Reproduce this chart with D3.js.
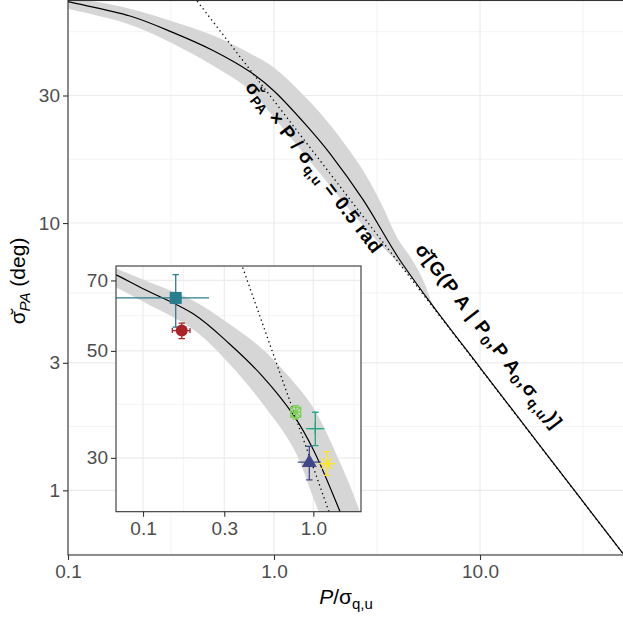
<!DOCTYPE html>
<html><head><meta charset="utf-8">
<script src="https://cdn.jsdelivr.net/npm/d3@7"></script>
<style>
body{margin:0;background:#fff;}
svg{display:block;font-family:"Liberation Sans",Arial,sans-serif;}
</style></head><body>
<svg id="chart" width="623" height="617"></svg>
<script>
// ---------------- data ----------------
const curveX = [0.065, 0.07, 0.1, 0.2, 0.32, 0.5, 0.765, 1.0, 1.45, 1.87, 2.71, 4.0, 5.72, 10, 20, 50];
const curveY = [72.6, 71.8, 67.3, 59.5, 51.8, 44.4, 36.8, 31.2, 23.0, 18.2, 12.2, 7.45, 5.06, 2.88, 1.435, 0.574];

const bandX  = [0.065, 0.1, 0.2, 0.32, 0.5, 0.765, 1.0, 1.45, 1.87, 2.71, 3.3, 4.0, 4.7, 5.3, 5.9, 7, 10, 50];
const bandHi = [74.8, 70.3, 63.4, 56.9, 50.5, 43.1, 38.1, 29.1, 23.3, 15.7, 11.9, 8.7, 7.26, 6.11, 4.98, 4.12, 2.88, 0.574];
const bandLo = [68.6, 63.3, 55.2, 47.1, 39.0, 31.4, 24.8, 17.5, 13.8, 9.76, 8.27, 7.08, 6.17, 5.48, 4.9, 4.12, 2.88, 0.574];

// the 0.5 rad line (sigma x P/sigma = 28.65 deg)
const radX = [0.3, 60];
const radY = [95.5, 0.4775];

// observed points (inset)
const obsX   = [0.1556, 0.1688, 0.788, 1.027, 0.947, 1.199];
const obsY   = [64.4, 55.1, 37.3, 34.5, 29.4, 29.2];
const obsXlo = [0.05, 0.1486, 0.775, 0.906, 0.81, 1.08];
const obsXhi = [0.244, 0.1888, 0.80, 1.16, 1.105, 1.353];
const obsYlo = [56.0, 53.0, 36.1, 31.8, 27.0, 27.6];
const obsYhi = [72.0, 57.1, 38.5, 37.3, 31.7, 30.9];
const obsShape = ["square", "circle", "squareStar", "plus", "triangle", "asterisk"];

// axis ticks
const mainXTicks = [0.1, 1, 10];
const mainXLabels = ["0.1", "1.0", "10.0"];
const mainYTicks = [1, 3, 10, 30];
const mainYLabels = ["1", "3", "10", "30"];
const insetXTicks = [0.1, 0.3, 1];
const insetXLabels = ["0.1", "0.3", "1.0"];
const insetYTicks = [30, 50, 70];
const insetYLabels = ["30", "50", "70"];

// ---------------- styles ----------------
const palette = ["#287D8E", "#AA2427", "#7AD151", "#22A884", "#3F4788", "#FDE725"];
const hCap = [0, 5, 0, 0, 0, 0];
const GRID = "#EBEBEB", BORDER = "#333333", TICKTXT = "#4D4D4D", BAND = "#D6D6D6";

const svg = d3.select("#chart");

// minor breaks as ggplot does (midpoints in log space, extended by first step)
function minorBreaks(b) {
  const lb = b.map(Math.log10);
  const bd = lb[1] - lb[0];
  const ext = [lb[0] - bd, ...lb, lb[lb.length - 1] + bd];
  const out = [];
  for (let i = 0; i < ext.length - 1; i++) out.push(Math.pow(10, (ext[i] + ext[i + 1]) / 2));
  return out;
}

function panel(opts) {
  const {x, y, xt, xl, yt, yl, id} = opts;
  const [x0, x1] = x.range(), [y0, y1] = y.range(); // y0 bottom, y1 top
  const g = svg.append("g");
  g.append("rect").attr("x", x0).attr("y", y1).attr("width", x1 - x0).attr("height", y0 - y1).attr("fill", "#fff");
  g.append("clipPath").attr("id", id).append("rect")
    .attr("x", x0).attr("y", y1).attr("width", x1 - x0).attr("height", y0 - y1);
  const inX = v => v >= x.domain()[0] * 0.999 && v <= x.domain()[1] * 1.001;
  const inY = v => v >= y.domain()[0] * 0.999 && v <= y.domain()[1] * 1.001;
  const gg = g.append("g");
  minorBreaks(xt).filter(inX).forEach(v => gg.append("line").attr("x1", x(v)).attr("x2", x(v)).attr("y1", y0).attr("y2", y1).attr("stroke", GRID).attr("stroke-width", 0.6));
  minorBreaks(yt).filter(inY).forEach(v => gg.append("line").attr("y1", y(v)).attr("y2", y(v)).attr("x1", x0).attr("x2", x1).attr("stroke", GRID).attr("stroke-width", 0.6));
  xt.filter(inX).forEach(v => gg.append("line").attr("x1", x(v)).attr("x2", x(v)).attr("y1", y0).attr("y2", y1).attr("stroke", GRID).attr("stroke-width", 1.15));
  yt.filter(inY).forEach(v => gg.append("line").attr("y1", y(v)).attr("y2", y(v)).attr("x1", x0).attr("x2", x1).attr("stroke", GRID).attr("stroke-width", 1.15));

  const curve = d3.curveCatmullRom.alpha(0.5);
  const band = bandX.map((d, i) => ({x: d, lo: bandLo[i], hi: bandHi[i]}));
  const line = curveX.map((d, i) => ({x: d, y: curveY[i]}));
  const content = g.append("g").attr("clip-path", `url(#${id})`);
  content.append("path").datum(band)
    .attr("d", d3.area().x(d => x(d.x)).y0(d => y(d.lo)).y1(d => y(d.hi)).curve(curve))
    .attr("fill", BAND);
  content.append("path").datum(line)
    .attr("d", d3.line().x(d => x(d.x)).y(d => y(d.y)).curve(curve))
    .attr("fill", "none").attr("stroke", "#000").attr("stroke-width", 1.2);
  content.append("path").datum(radX.map((d, i) => [d, radY[i]]))
    .attr("d", d3.line().x(d => x(d[0])).y(d => y(d[1])))
    .attr("fill", "none").attr("stroke", "#000").attr("stroke-width", 1.3)
    .attr("stroke-dasharray", "1.3,3.3");

  // axes
  const ax = g.append("g").attr("transform", `translate(0,${y0})`)
    .call(d3.axisBottom(x).tickValues(xt).tickFormat((d, i) => xl[i]).tickSize(5).tickPadding(4.5).tickSizeOuter(0));
  const ay = g.append("g").attr("transform", `translate(${x0},0)`)
    .call(d3.axisLeft(y).tickValues(yt).tickFormat((d, i) => yl[i]).tickSize(5).tickPadding(3).tickSizeOuter(0));
  [ax, ay].forEach(a => {
    a.select(".domain").remove();
    a.selectAll(".tick line").attr("stroke", BORDER).attr("stroke-width", 1.1);
    a.selectAll(".tick text").attr("fill", TICKTXT).attr("font-size", 19).attr("font-family", "Liberation Sans, Arial, sans-serif");
  });
  g.append("rect").attr("x", x0).attr("y", y1).attr("width", x1 - x0).attr("height", y0 - y1)
    .attr("fill", "none").attr("stroke", BORDER).attr("stroke-width", 1.1);
  return {g, content};
}

// ---------------- main panel ----------------
const xMain = d3.scaleLog().domain([0.1, 50]).range([68, 624]);
const yMain = d3.scaleLog().domain([0.573, 68]).range([555, 0.5]);
const main = panel({x: xMain, y: yMain, xt: mainXTicks, xl: mainXLabels, yt: mainYTicks, yl: mainYLabels, id: "clipMain"});

// annotations along the lines
const ANG = 52.4;
function annot(cx, cy, parts, size, ls) {
  const t = svg.append("g").attr("transform", `translate(${cx},${cy}) rotate(${ANG})`)
    .append("text").attr("text-anchor", "middle").attr("font-weight", "bold")
    .attr("font-size", size).attr("dy", "0.35em").attr("fill", "#000")
    .attr("letter-spacing", ls);
  let cur = 0;
  parts.forEach(p => {
    const sub = p[1] === "sub";
    const off = sub ? 4.5 : 0;
    t.append("tspan").text(p[0]).attr("font-size", sub ? size * 0.72 : size)
      .attr("dy", off - cur);
    cur = off;
  });
}
annot(309, 171, [["σ\u0306"], ["PA", "sub"], [" × P / σ"], ["q,u", "sub"], [" = 0.5 rad"]], 19, 0.6);
annot(484, 340, [["σ\u0306"], ["[G(P A | P"], ["0", "sub"], [",P A"], ["0", "sub"], [",σ"], ["q,u", "sub"], [")]"]], 19, 1.1);

// axis titles
const xt = svg.append("text").attr("x", 346).attr("y", 604).attr("text-anchor", "middle").attr("font-size", 21).attr("fill", "#000");
xt.append("tspan").text("P").attr("font-style", "italic");
xt.append("tspan").text("/σ");
xt.append("tspan").text("q,u").attr("font-size", 15).attr("dy", 5);

const yt = svg.append("g").attr("transform", "translate(25,281) rotate(-90)")
  .append("text").attr("text-anchor", "middle").attr("font-size", 21).attr("fill", "#000");
yt.append("tspan").text("σ\u0306");
yt.append("tspan").text("PA").attr("font-size", 15).attr("font-style", "italic").attr("dy", 5);
yt.append("tspan").text(" (deg)").attr("dy", -5);

// ---------------- inset panel ----------------
const xIn = d3.scaleLog().domain([0.0694, 1.905]).range([116, 361]);
const yIn = d3.scaleLog().domain([23.2, 75]).range([511.7, 266]);
const inset = panel({x: xIn, y: yIn, xt: insetXTicks, xl: insetXLabels, yt: insetYTicks, yl: insetYLabels, id: "clipInset"});

const pts = inset.content.append("g");
obsX.forEach((xv, i) => {
  const c = palette[i];
  const px = xIn(xv), py = yIn(obsY[i]);
  const gp = pts.append("g").attr("stroke", c).attr("stroke-width", 1.3).attr("fill", "none");
  const vy0 = yIn(obsYlo[i]), vy1 = yIn(obsYhi[i]);
  gp.append("line").attr("x1", px).attr("x2", px).attr("y1", vy0).attr("y2", vy1);
  gp.append("line").attr("x1", px - 3.2).attr("x2", px + 3.2).attr("y1", vy0).attr("y2", vy0);
  gp.append("line").attr("x1", px - 3.2).attr("x2", px + 3.2).attr("y1", vy1).attr("y2", vy1);
  const hx0 = xIn(obsXlo[i]), hx1 = xIn(obsXhi[i]);
  gp.append("line").attr("x1", hx0).attr("x2", hx1).attr("y1", py).attr("y2", py);
  if (hCap[i] > 0) {
    gp.append("line").attr("x1", hx0).attr("x2", hx0).attr("y1", py - hCap[i] / 2).attr("y2", py + hCap[i] / 2);
    gp.append("line").attr("x1", hx1).attr("x2", hx1).attr("y1", py - hCap[i] / 2).attr("y2", py + hCap[i] / 2);
  }
  const s = obsShape[i];
  if (s === "square") {
    gp.append("rect").attr("x", px - 6).attr("y", py - 6).attr("width", 12).attr("height", 12).attr("fill", c).attr("stroke", "none");
  } else if (s === "circle") {
    gp.append("circle").attr("cx", px).attr("cy", py).attr("r", 6).attr("fill", c).attr("stroke", "none");
  } else if (s === "triangle") {
    gp.append("path").attr("d", `M${px},${py - 8}L${px + 7.5},${py + 5}L${px - 7.5},${py + 5}Z`).attr("fill", c).attr("stroke", "none");
  } else if (s === "squareStar") {
    const r = 5;
    gp.append("rect").attr("x", px - r).attr("y", py - r).attr("width", 2 * r).attr("height", 2 * r);
    gp.append("path").attr("d", `M${px - r},${py - r}L${px + r},${py + r}M${px - r},${py + r}L${px + r},${py - r}M${px},${py - r}L${px},${py + r}M${px - r},${py}L${px + r},${py}`);
  } else if (s === "plus") {
    gp.append("path").attr("d", `M${px - 6},${py}L${px + 6},${py}M${px},${py - 6}L${px},${py + 6}`);
  } else if (s === "asterisk") {
    const r = 8, d = 5.7;
    gp.append("path").attr("d", `M${px - r},${py}L${px + r},${py}M${px},${py - r}L${px},${py + r}M${px - d},${py - d}L${px + d},${py + d}M${px - d},${py + d}L${px + d},${py - d}`);
  }
});
</script>
</body></html>
